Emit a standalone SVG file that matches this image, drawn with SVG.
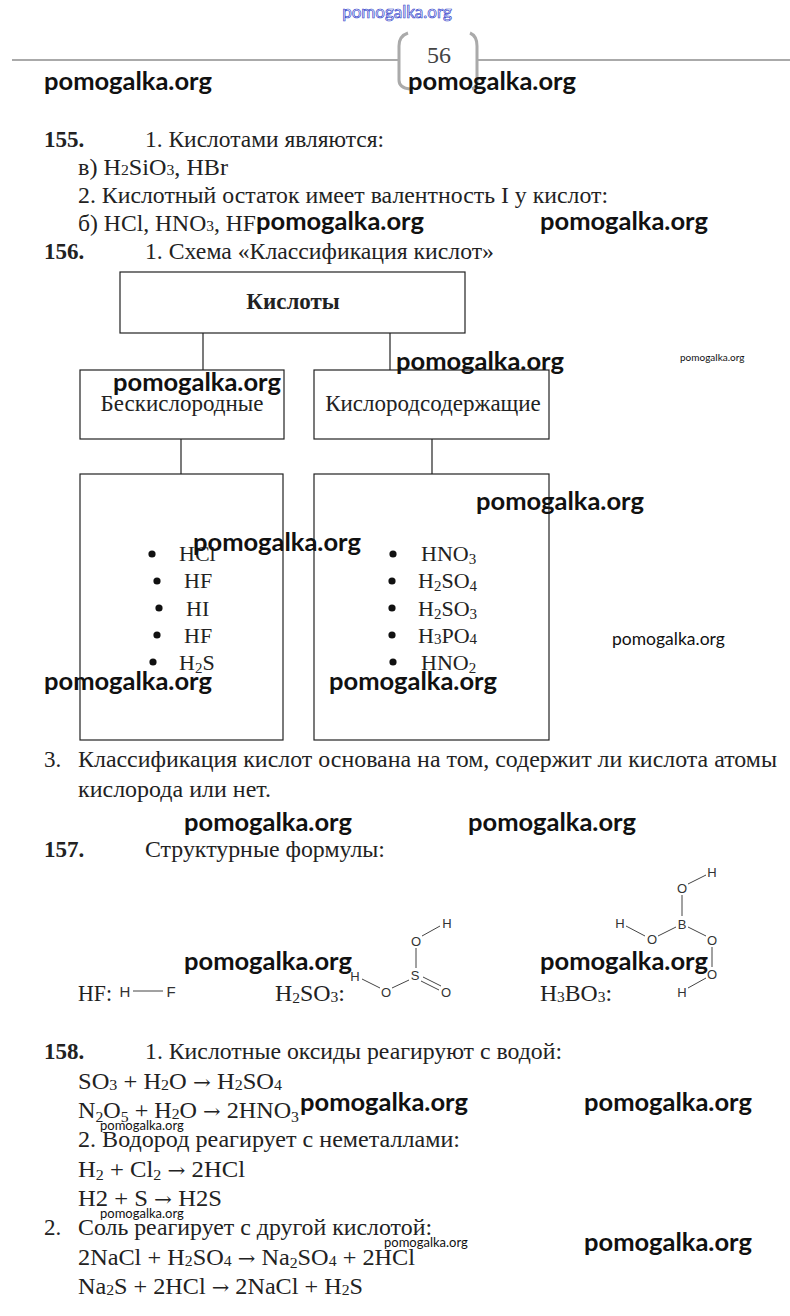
<svg xmlns="http://www.w3.org/2000/svg" width="790" height="1316" viewBox="0 0 790 1316">
<style>
.t{font-family:"Liberation Serif","Times New Roman",serif;font-size:22px;fill:#222}
.p{font-size:23px}
.b{font-weight:bold}
.s{font-size:15px}
.ar{font-family:"DejaVu Serif","Liberation Serif",serif;font-size:20px}
.wm{font-family:Lato,"Open Sans","Liberation Sans",sans-serif;font-weight:bold;font-size:25.5px;fill:#111}
.wms{font-family:Lato,"Open Sans","Liberation Sans",sans-serif;fill:#111}
.box{fill:#fff;stroke:#222;stroke-width:1.2}
.con{stroke:#222;stroke-width:1.2;fill:none}
.at{font-family:"Liberation Sans",Arial,sans-serif;font-size:13px;fill:#333;text-anchor:middle}
.bond{stroke:#444;stroke-width:1;fill:none}
.dot{fill:#111}
</style>
<rect width="790" height="1316" fill="#fff"/>

<!-- header -->
<g id="header">
<text x="397" y="18" text-anchor="middle" font-family="Lato,'Open Sans',sans-serif" font-size="17" fill="#fff" stroke="#3344cc" stroke-width="0.7">pomogalka.org</text>
<line x1="12" y1="60" x2="399" y2="60" stroke="#aaa" stroke-width="2"/>
<line x1="477" y1="60" x2="790" y2="60" stroke="#aaa" stroke-width="2"/>
<path d="M408,33 Q399,36 399,46 L399,80 Q399,88 410,89" fill="none" stroke="#aaa" stroke-width="3"/>
<path d="M470,33 Q477,36 477,46 L477,80 Q477,87 472,89" fill="none" stroke="#aaa" stroke-width="3"/>
<text x="439" y="63" text-anchor="middle" class="t" style="font-size:24px;fill:#444">56</text>
</g>

<!-- section 155 -->
<g id="sec155">
<text x="44" y="147" class="t p b">155.</text>
<text x="145" y="147" class="t p" textLength="239" lengthAdjust="spacingAndGlyphs">1. Кислотами являются:</text>
<text x="78" y="175" class="t p" textLength="150" lengthAdjust="spacingAndGlyphs">в) H<tspan class="s">2</tspan>SiO<tspan class="s">3</tspan>, HBr</text>
<text x="78" y="203" class="t p" textLength="530" lengthAdjust="spacingAndGlyphs">2. Кислотный остаток имеет валентность I у кислот:</text>
<text x="78" y="231" class="t p" textLength="178" lengthAdjust="spacingAndGlyphs">б) HCl, HNO<tspan class="s">3</tspan>, HF</text>
<text x="44" y="259" class="t p b">156.</text>
<text x="145" y="259" class="t p" textLength="349" lengthAdjust="spacingAndGlyphs">1. Схема «Классификация кислот»</text>
</g>

<!-- connectors -->
<g id="connectors">
<line class="con" x1="203" y1="333" x2="203" y2="370"/>
<line class="con" x1="390" y1="333" x2="390" y2="370"/>
<line class="con" x1="181" y1="439" x2="181" y2="474"/>
<line class="con" x1="432" y1="439" x2="432" y2="474"/>
</g>

<g id="n-kisloty">
<rect class="box" x="120" y="272" width="345" height="61"/>
<text x="293" y="309" text-anchor="middle" class="t p b">Кислоты</text>
</g>
<g id="n-beskislorodnye">
<rect class="box" x="80" y="370" width="204" height="69"/>
<text x="182" y="411" text-anchor="middle" class="t p">Бескислородные</text>
</g>
<g id="n-kislorodsoderzhashchie">
<rect class="box" x="314" y="370" width="235" height="69"/>
<text x="433" y="411" text-anchor="middle" class="t p">Кислородсодержащие</text>
</g>
<g id="n-list-left">
<rect class="box" x="80" y="474" width="203" height="266"/>
<circle class="dot" cx="152" cy="554" r="3.6"/>
<circle class="dot" cx="157" cy="581" r="3.6"/>
<circle class="dot" cx="159" cy="608" r="3.6"/>
<circle class="dot" cx="157" cy="635" r="3.6"/>
<circle class="dot" cx="153" cy="662" r="3.6"/>
<text x="179" y="561" class="t">HCl</text>
<text x="184" y="588" class="t">HF</text>
<text x="186" y="616" class="t">HI</text>
<text x="184" y="643" class="t">HF</text>
<text x="179" y="670" class="t">H<tspan class="s" dy="3">2</tspan><tspan dy="-3">S</tspan></text>
</g>
<g id="n-list-right">
<rect class="box" x="314" y="474" width="235" height="266"/>
<circle class="dot" cx="393" cy="554" r="3.6"/>
<circle class="dot" cx="392" cy="581" r="3.6"/>
<circle class="dot" cx="392" cy="608" r="3.6"/>
<circle class="dot" cx="392" cy="635" r="3.6"/>
<circle class="dot" cx="393" cy="662" r="3.6"/>
<text x="421" y="561" class="t">HNO<tspan class="s" dy="3">3</tspan></text>
<text x="418" y="588" class="t">H<tspan class="s" dy="3">2</tspan><tspan dy="-3">SO</tspan><tspan class="s" dy="3">4</tspan></text>
<text x="418" y="616" class="t">H<tspan class="s" dy="3">2</tspan><tspan dy="-3">SO</tspan><tspan class="s" dy="3">3</tspan></text>
<text x="418" y="643" class="t">H<tspan class="s" dy="1">3</tspan><tspan dy="-1">PO</tspan><tspan class="s" dy="1">4</tspan></text>
<text x="421" y="670" class="t">HNO<tspan class="s" dy="3">2</tspan></text>
</g>

<!-- point 3 and 157 -->
<g id="sec157">
<text x="44" y="767" class="t p">3.</text>
<text x="78" y="767" class="t p" textLength="699" lengthAdjust="spacingAndGlyphs">Классификация кислот основана на том, содержит ли кислота атомы</text>
<text x="78" y="797" class="t p" textLength="193" lengthAdjust="spacingAndGlyphs">кислорода или нет.</text>
<text x="44" y="857" class="t p b">157.</text>
<text x="145" y="857" class="t p" textLength="240" lengthAdjust="spacingAndGlyphs">Структурные формулы:</text>
<text x="78" y="1001" class="t p" textLength="34" lengthAdjust="spacingAndGlyphs">HF:</text>
<text x="275" y="1001" class="t p" textLength="70" lengthAdjust="spacingAndGlyphs">H<tspan class="s" dy="2">2</tspan><tspan dy="-2">SO</tspan><tspan class="s" dy="1">3</tspan><tspan dy="-1">:</tspan></text>
<text x="540" y="1001" class="t p" textLength="72" lengthAdjust="spacingAndGlyphs">H<tspan class="s" dy="1">3</tspan><tspan dy="-1">BO</tspan><tspan class="s" dy="1">3</tspan><tspan dy="-1">:</tspan></text>
</g>

<g id="struct-HF">
<text x="125" y="997" class="at" style="font-size:15px">H</text>
<line class="bond" x1="133" y1="991" x2="163" y2="991" stroke-width="1.3"/>
<text x="171" y="997" class="at" style="font-size:15px">F</text>
</g>

<g id="struct-H2SO3">
<text x="447" y="928" class="at">H</text>
<text x="416" y="946" class="at">O</text>
<text x="415" y="980" class="at">S</text>
<text x="446" y="997" class="at">O</text>
<text x="386" y="997" class="at">O</text>
<text x="355" y="981" class="at">H</text>
<line class="bond" x1="422" y1="936" x2="440" y2="926"/>
<line class="bond" x1="416" y1="948" x2="416" y2="968"/>
<line class="bond" x1="421" y1="981" x2="439" y2="990"/>
<line class="bond" x1="423" y1="977" x2="441" y2="986"/>
<line class="bond" x1="409" y1="980" x2="392" y2="988"/>
<line class="bond" x1="380" y1="988" x2="362" y2="979"/>
</g>

<g id="struct-H3BO3">
<text x="712" y="877" class="at">H</text>
<text x="682" y="893" class="at">O</text>
<text x="682" y="929" class="at">B</text>
<text x="620" y="928" class="at">H</text>
<text x="652" y="944" class="at">O</text>
<text x="712" y="945" class="at">O</text>
<text x="712" y="979" class="at">O</text>
<text x="682" y="997" class="at">H</text>
<line class="bond" x1="688" y1="884" x2="706" y2="875"/>
<line class="bond" x1="682" y1="895" x2="682" y2="916"/>
<line class="bond" x1="676" y1="927" x2="658" y2="936"/>
<line class="bond" x1="626" y1="926" x2="645" y2="936"/>
<line class="bond" x1="688" y1="927" x2="706" y2="936"/>
<line class="bond" x1="712" y1="947" x2="712" y2="967"/>
<line class="bond" x1="706" y1="978" x2="688" y2="988"/>
</g>

<!-- section 158 -->
<g id="sec158">
<text x="44" y="1059" class="t p b">158.</text>
<text x="145" y="1059" class="t p" textLength="417" lengthAdjust="spacingAndGlyphs">1. Кислотные оксиды реагируют с водой:</text>
<text x="78" y="1089" class="t p" textLength="204" lengthAdjust="spacingAndGlyphs">SO<tspan class="s" dy="1">3</tspan><tspan dy="-1"> + H</tspan><tspan class="s" dy="1">2</tspan><tspan dy="-1">O </tspan><tspan class="ar">→</tspan> H<tspan class="s" dy="1">2</tspan><tspan dy="-1">SO</tspan><tspan class="s" dy="1">4</tspan></text>
<text x="78" y="1118" class="t p" textLength="221" lengthAdjust="spacingAndGlyphs">N<tspan class="s" dy="4">2</tspan><tspan dy="-4">O</tspan><tspan class="s" dy="4">5</tspan><tspan dy="-4"> + H</tspan><tspan class="s" dy="1">2</tspan><tspan dy="-1">O </tspan><tspan class="ar">→</tspan> 2HNO<tspan class="s" dy="4">3</tspan></text>
<text x="78" y="1147" class="t p" textLength="382" lengthAdjust="spacingAndGlyphs">2. Водород реагирует с неметаллами:</text>
<text x="78" y="1177" class="t p" textLength="167" lengthAdjust="spacingAndGlyphs">H<tspan class="s" dy="3">2</tspan><tspan dy="-3"> + Cl</tspan><tspan class="s" dy="3">2</tspan><tspan dy="-3"> </tspan><tspan class="ar">→</tspan> 2HCl</text>
<text x="78" y="1206" class="t p" textLength="144" lengthAdjust="spacingAndGlyphs">H2 + S <tspan class="ar">→</tspan> H2S</text>
<text x="44" y="1235" class="t p">2.</text>
<text x="78" y="1235" class="t p" textLength="354" lengthAdjust="spacingAndGlyphs">Соль реагирует с другой кислотой:</text>
<text x="78" y="1265" class="t p" textLength="337" lengthAdjust="spacingAndGlyphs">2NaCl + H<tspan class="s" dy="1">2</tspan><tspan dy="-1">SO</tspan><tspan class="s" dy="1">4</tspan><tspan dy="-1"> </tspan><tspan class="ar">→</tspan> Na<tspan class="s" dy="3">2</tspan><tspan dy="-3">SO</tspan><tspan class="s" dy="1">4</tspan><tspan dy="-1"> + 2HCl</tspan></text>
<text x="78" y="1294" class="t p" textLength="285" lengthAdjust="spacingAndGlyphs">Na<tspan class="s" dy="1">2</tspan><tspan dy="-1">S + 2HCl </tspan><tspan class="ar">→</tspan> 2NaCl + H<tspan class="s" dy="1">2</tspan><tspan dy="-1">S</tspan></text>
</g>

<!-- watermarks -->
<g id="watermarks">
<text class="wm" x="44" y="90">pomogalka.org</text>
<text class="wm" x="408" y="90">pomogalka.org</text>
<text class="wm" x="256" y="230">pomogalka.org</text>
<text class="wm" x="540" y="230">pomogalka.org</text>
<text class="wm" x="396" y="370">pomogalka.org</text>
<text class="wm" x="113" y="391">pomogalka.org</text>
<text class="wm" x="476" y="510">pomogalka.org</text>
<text class="wm" x="193" y="551">pomogalka.org</text>
<text class="wm" x="44" y="690">pomogalka.org</text>
<text class="wm" x="329" y="690">pomogalka.org</text>
<text class="wm" x="184" y="831">pomogalka.org</text>
<text class="wm" x="468" y="831">pomogalka.org</text>
<text class="wm" x="184" y="970">pomogalka.org</text>
<text class="wm" x="540" y="970">pomogalka.org</text>
<text class="wm" x="300" y="1111">pomogalka.org</text>
<text class="wm" x="584" y="1111">pomogalka.org</text>
<text class="wm" x="584" y="1251">pomogalka.org</text>
<text class="wms" x="680" y="361" font-size="10">pomogalka.org</text>
<text class="wms" x="612" y="645" font-size="17.5">pomogalka.org</text>
<text class="wms" x="100" y="1130" font-size="13">pomogalka.org</text>
<text class="wms" x="100" y="1218" font-size="13">pomogalka.org</text>
<text class="wms" x="384" y="1247" font-size="13">pomogalka.org</text>
</g>
</svg>
